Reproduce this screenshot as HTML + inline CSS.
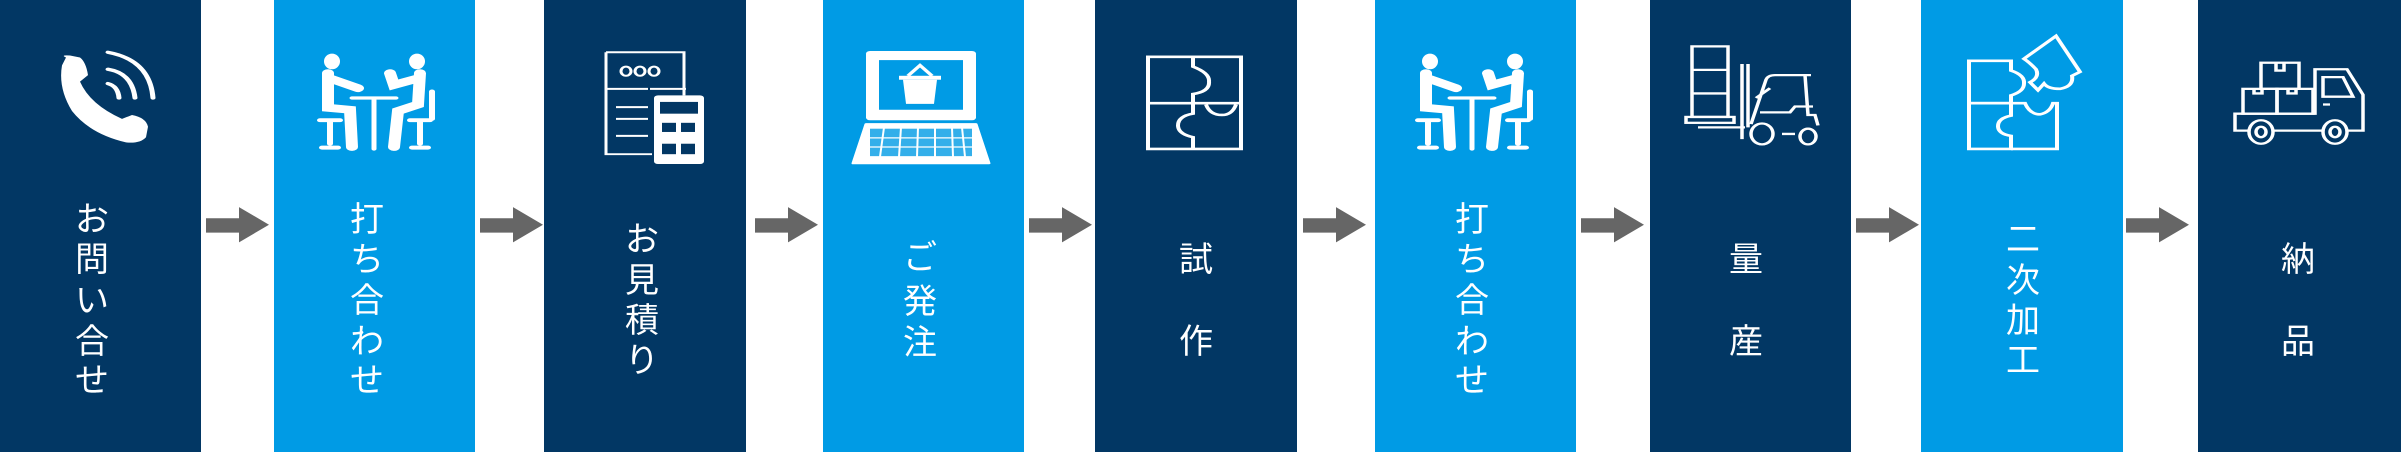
<!DOCTYPE html>
<html style="width:2401px;height:452px;overflow:hidden"><head><meta charset="utf-8"><style>
html,body{margin:0;padding:0;background:#fff}
body{width:2401px;height:452px;position:relative;overflow:hidden;font-family:"Liberation Sans","Noto Sans CJK JP",sans-serif}
.c{position:absolute;top:0;height:452px}
.d{background:#023764}.l{background:#009be5}
.t{position:absolute;width:60px;height:50px;line-height:50px;text-align:center;color:#fff;font-size:34px}
svg{position:absolute;left:0;top:0}
</style></head><body>
<div class="c d" style="left:0;width:201px"></div>
<div class="c l" style="left:274px;width:201px"></div>
<div class="c d" style="left:544px;width:202px"></div>
<div class="c l" style="left:823px;width:201px"></div>
<div class="c d" style="left:1095px;width:202px"></div>
<div class="c l" style="left:1375px;width:201px"></div>
<div class="c d" style="left:1650px;width:201px"></div>
<div class="c l" style="left:1921px;width:202px"></div>
<div class="c d" style="left:2198px;width:203px"></div>

<svg width="2401" height="452" viewBox="0 0 2401 452">
<g transform="scale(1,0.6533)">
<g fill="#666">
<polygon points="206,334 239,334 239,317 269,344 239,371 239,356 206,356"/>
<polygon points="480,334 513,334 513,317 543,344 513,371 513,356 480,356"/>
<polygon points="755,334 788,334 788,317 818,344 788,371 788,356 755,356"/>
<polygon points="1029,334 1062,334 1062,317 1092,344 1062,371 1062,356 1029,356"/>
<polygon points="1303,334 1336,334 1336,317 1366,344 1336,371 1336,356 1303,356"/>
<polygon points="1581,334 1614,334 1614,317 1644,344 1614,371 1614,356 1581,356"/>
<polygon points="1856,334 1889,334 1889,317 1919,344 1889,371 1889,356 1856,356"/>
<polygon points="2126,334 2159,334 2159,317 2189,344 2159,371 2159,356 2126,356"/>
</g>
<!-- phone -->
<path fill="#fff" d="M66,88 Q60,84 70,85 L80,88 Q86,95 88,115 L80,125 Q90,160 122,182 L132,176 Q146,180 148,194 L146,210 Q140,220 126,218 Q90,205 72,170 Q58,135 62,100 Z"/>
<g fill="none" stroke="#fff" stroke-width="5" stroke-linecap="round">
<path d="M108,128 Q118,132 119,150"/>
<path d="M108,106 Q132,112 135,150"/>
<path d="M108,80 Q150,92 153,150"/>
</g>
<!-- meeting icons -->
<g id="meet" fill="#fff" stroke="#fff" stroke-linecap="round">
<ellipse cx="332" cy="94" rx="8" ry="12" stroke="none"/>
<ellipse cx="417" cy="94" rx="8" ry="12" stroke="none"/>
<path d="M328,112 L328,165 L350,168 L352,225 M330,120 L358,135" fill="none" stroke-width="12"/>
<path d="M420,112 L418,160 L398,170 L394,225 M418,120 L394,130 L390,112" fill="none" stroke-width="12"/>
<path d="M352,150 L396,150 M374,150 L374,228" fill="none" stroke-width="5"/>
<path d="M320,184 L340,184 M330,184 L330,220 M322,226 L338,226" fill="none" stroke-width="6"/>
<path d="M410,184 L430,184 M420,184 L420,220 M412,226 L428,226 M432,140 L432,182" fill="none" stroke-width="6"/>
</g>
<use href="#meet" x="1098"/>
<!-- estimate -->
<g fill="none" stroke="#fff" stroke-width="3">
<path d="M648,136 L606,136 L606,236 L652,236 M606,80 L684,80 L684,146 M606,80 L606,136"/>
<ellipse cx="626" cy="109" rx="5" ry="7"/><ellipse cx="640" cy="109" rx="5" ry="7"/><ellipse cx="654" cy="109" rx="5" ry="7"/>
<path d="M650,136 L686,136 M616,164 L648,164 M616,182 L648,182 M616,208 L648,208"/>
</g>
<rect x="654" y="146" width="50" height="105" rx="4" fill="#fff"/>
<g fill="#023764"><rect x="660" y="156" width="38" height="18"/><rect x="662" y="188" width="14" height="14"/><rect x="681" y="188" width="14" height="14"/><rect x="662" y="220" width="14" height="16"/><rect x="681" y="220" width="14" height="16"/></g>
<!-- laptop -->
<rect x="866" y="78" width="110" height="106" rx="4" fill="#fff"/>
<rect x="879" y="92" width="84" height="76" fill="#009be5"/>
<g fill="#fff"><rect x="899" y="116" width="42" height="6"/><path d="M903,122 L937,122 L934,159 L906,159 Z"/><path d="M908,116 L920,100 L932,116" fill="none" stroke="#fff" stroke-width="4"/></g>
<path d="M866,190 L976,190 L989,250 L853,250 Z" fill="#fff" stroke="#fff" stroke-width="3" stroke-linejoin="round"/>
<rect x="870" y="197" width="102" height="42" fill="#009be5" opacity="0.8"/>
<g stroke="#fff" stroke-width="2"><path d="M868,211 L974,211 M866,225 L976,225 M884,195 L880,240 M901,195 L899,240 M918,195 L917,240 M935,195 L935,240 M952,195 L953,240 M962,195 L965,240"/></g>
<!-- puzzle -->
<g fill="none" stroke="#fff" stroke-width="4">
<rect x="1148" y="87" width="93" height="141"/>
<path d="M1148,158 L1241,158 M1193,87 L1193,102 Q1210,112 1209,125 Q1210,140 1193,144 L1193,158 L1193,174 Q1178,178 1178,192 Q1178,205 1193,210 L1193,228 M1206,160 Q1210,176 1222,176 Q1232,176 1236,160"/>
</g>
<!-- forklift -->
<g fill="none" stroke="#fff" stroke-width="3.5">
<rect x="1692" y="71" width="36" height="108"/><path d="M1692,107 L1728,107 M1692,143 L1728,143"/>
<rect x="1686" y="179" width="48" height="9"/>
<path d="M1698,195 L1745,195 M1742,98 L1742,213 M1748,98 L1748,195"/>
<path d="M1751,190 L1766,122 Q1768,115 1775,115 L1811,115 M1805,115 L1808,176 L1815,176 L1818,192 M1756,150 L1770,135"/>
<path d="M1760,172 L1790,172 L1795,163 L1813,163 M1782,205 L1795,205"/>
<ellipse cx="1762" cy="205" rx="11" ry="16"/><ellipse cx="1808" cy="209" rx="8" ry="12"/>
</g>
<!-- puzzle 2 -->
<g fill="none" stroke="#fff" stroke-width="4">
<path d="M1969,93 L2011,93 L2011,108 Q2025,115 2024,128 Q2024,140 2011,146 L2011,158 L1969,158 Z"/>
<path d="M1969,158 L2011,158 L2011,177 Q1998,181 1998,193 Q1998,205 2011,208 L2011,228 L1969,228 Z"/>
<path d="M2011,158 L2025,158 Q2030,175 2040,175 Q2050,172 2053,158 L2057,158 L2057,228 L2011,228"/>
<path d="M2024,90 L2056,55 L2080,110 L2072,116 Q2074,132 2060,136 Q2048,136 2044,128 L2038,138 L2030,126 Q2040,118 2036,106 Q2030,96 2024,90 Z"/>
</g>
<!-- truck -->
<g fill="none" stroke="#fff" stroke-width="3.5">
<rect x="2261" y="96" width="38" height="40"/><path d="M2276,96 L2276,108 L2284,108 L2284,96"/>
<rect x="2243" y="136" width="34" height="38"/><rect x="2277" y="136" width="36" height="38"/>
<path d="M2254,136 L2254,143 L2262,143 L2262,136 M2288,136 L2288,143 L2296,143 L2296,136"/>
<path d="M2235,174 L2315,174 L2315,106 L2347,106 L2363,145 L2363,200 L2235,200 Z"/>
<path d="M2323,118 L2343,118 L2353,148 L2323,148 Z M2323,160 L2330,160"/>
<ellipse cx="2261" cy="202" rx="12" ry="18" fill="#023764"/><ellipse cx="2261" cy="202" rx="5" ry="8"/>
<ellipse cx="2335" cy="202" rx="12" ry="18" fill="#023764"/><ellipse cx="2335" cy="202" rx="5" ry="8"/>
</g>
</g>
</svg>

<!-- text -->
<div class="t" style="left:62px;top:195px">お</div>
<div class="t" style="left:62px;top:235px">問</div>
<div class="t" style="left:62px;top:276px">い</div>
<div class="t" style="left:62px;top:317px">合</div>
<div class="t" style="left:62px;top:356px">せ</div>

<div class="t" style="left:337px;top:195px">打</div>
<div class="t" style="left:337px;top:235px">ち</div>
<div class="t" style="left:337px;top:276px">合</div>
<div class="t" style="left:337px;top:317px">わ</div>
<div class="t" style="left:337px;top:356px">せ</div>

<div class="t" style="left:612px;top:215px">お</div>
<div class="t" style="left:612px;top:256px">見</div>
<div class="t" style="left:612px;top:296px">積</div>
<div class="t" style="left:612px;top:336px">り</div>

<div class="t" style="left:890px;top:233px">ご</div>
<div class="t" style="left:890px;top:277px">発</div>
<div class="t" style="left:890px;top:318px">注</div>

<div class="t" style="left:1166px;top:235px">試</div>
<div class="t" style="left:1166px;top:317px">作</div>

<div class="t" style="left:1442px;top:195px">打</div>
<div class="t" style="left:1442px;top:235px">ち</div>
<div class="t" style="left:1442px;top:276px">合</div>
<div class="t" style="left:1442px;top:317px">わ</div>
<div class="t" style="left:1442px;top:356px">せ</div>

<div class="t" style="left:1716px;top:235px">量</div>
<div class="t" style="left:1716px;top:317px">産</div>

<div class="t" style="left:1993px;top:215px">二</div>
<div class="t" style="left:1993px;top:256px">次</div>
<div class="t" style="left:1993px;top:296px">加</div>
<div class="t" style="left:1993px;top:336px">工</div>

<div class="t" style="left:2268px;top:235px">納</div>
<div class="t" style="left:2268px;top:317px">品</div>
</body></html>
